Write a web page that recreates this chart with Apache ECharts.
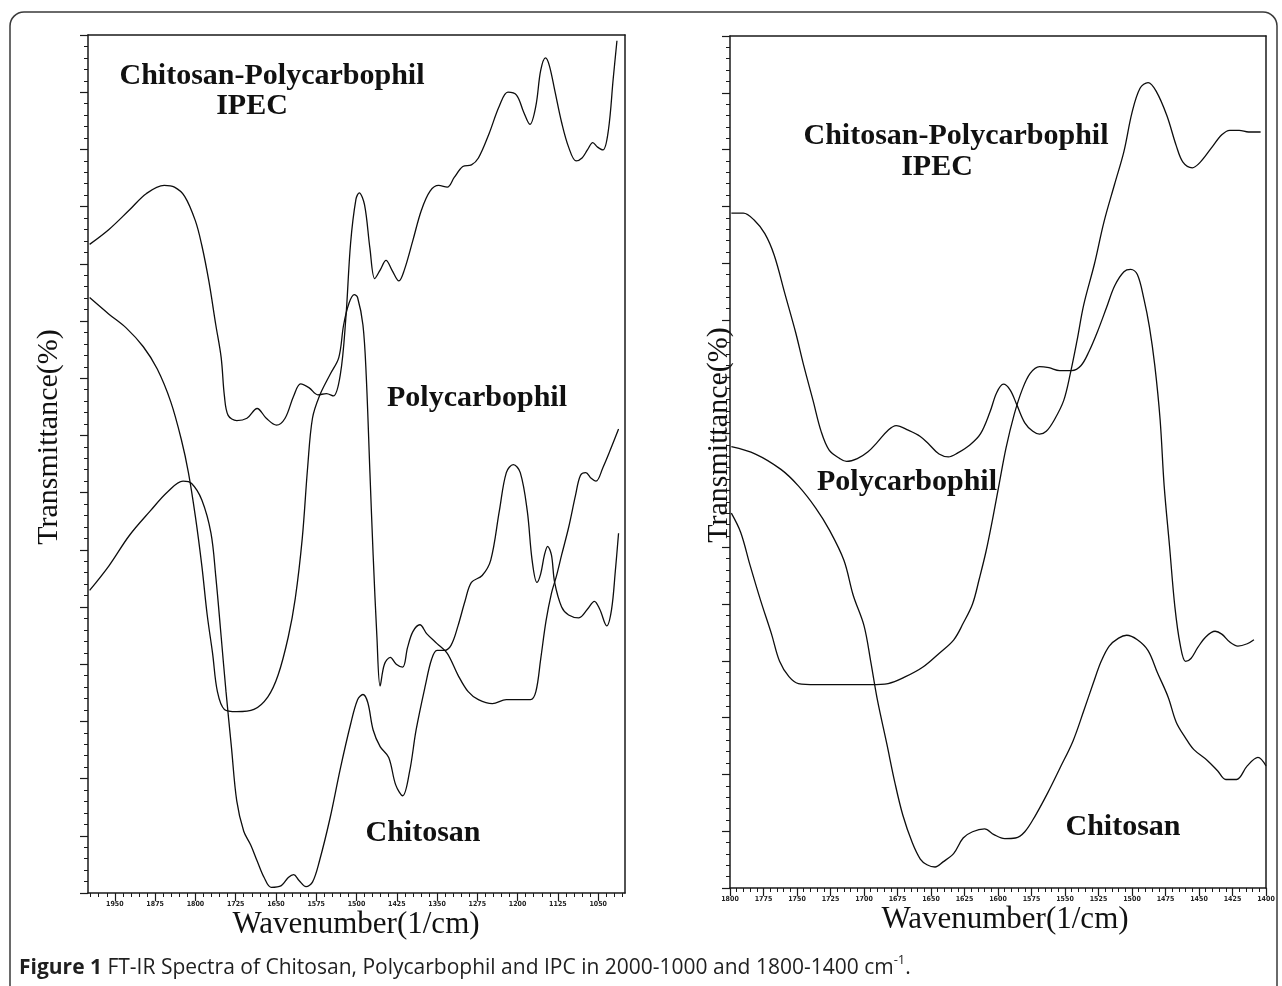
<!DOCTYPE html>
<html><head><meta charset="utf-8">
<script src="https://cdn.jsdelivr.net/npm/echarts@6/dist/echarts.min.js"></script>
<style>html,body{margin:0;padding:0;background:#fff}#c{width:1282px;height:986px}</style>
</head><body><div id="c"></div>
<script>
// ---- Left panel (2000-1000 cm-1): [wavenumber, transmittance (arb.)]
const leftIPEC = [[1997,113.4],[1961,116.0],[1923,119.4],[1891,122.3],[1858,123.7],[1839,123.4],[1820,121.8],[1800,117.5],[1788,113.2],[1775,107.0],[1762,99.3],[1752,93.6],[1746,86.9],[1739,83.5],[1723,82.6],[1704,83.0],[1685,84.7],[1668,83.0],[1649,81.8],[1633,83.0],[1617,86.9],[1604,89.0],[1588,88.3],[1572,87.1],[1556,87.3],[1543,86.9],[1530,90.7],[1520,100.3],[1511,113.6],[1501,121.3],[1495,122.4],[1485,120.3],[1475,112.7],[1466,107.4],[1456,108.9],[1445,110.6],[1434,108.9],[1421,107.0],[1411,108.9],[1395,114.1],[1379,119.4],[1363,122.7],[1347,123.7],[1331,123.4],[1318,125.1],[1302,127.0],[1286,127.3],[1273,128.5],[1253,132.8],[1234,137.6],[1218,140.0],[1202,139.5],[1189,136.6],[1177,134.4],[1166,137.6],[1157,143.8],[1148,146.0],[1141,144.7],[1131,140.4],[1118,134.7],[1105,130.4],[1091,128.0],[1080,128.5],[1070,129.9],[1060,131.2],[1051,130.4],[1041,129.9],[1031,133.3],[1022,142.3],[1015,149.0]];
const leftPolycarbophil = [[1997,104.1],[1961,101.2],[1929,98.8],[1897,95.5],[1871,91.6],[1846,85.9],[1826,79.2],[1813,73.5],[1800,65.8],[1788,57.2],[1778,48.6],[1768,41.9],[1759,35.2],[1746,32.1],[1723,31.7],[1691,32.1],[1665,34.3],[1646,38.1],[1627,44.8],[1614,51.5],[1601,62.0],[1591,74.4],[1582,83.0],[1569,86.9],[1549,90.7],[1533,93.6],[1524,99.3],[1514,103.1],[1504,104.6],[1498,104.1],[1488,99.3],[1482,90.7],[1475,73.5],[1469,59.1],[1462,44.8],[1456,36.2],[1448,40.0],[1437,41.2],[1426,40.0],[1414,39.5],[1405,42.9],[1395,45.7],[1382,46.9],[1369,45.3],[1350,43.6],[1331,41.9],[1311,38.1],[1292,35.2],[1273,33.8],[1247,33.1],[1221,33.8],[1195,33.8],[1176,33.8],[1166,35.2],[1157,40.9],[1147,47.6],[1137,52.4],[1128,55.3],[1118,59.1],[1105,63.9],[1092,69.6],[1083,73.0],[1073,73.5],[1063,72.5],[1054,72.0],[1041,74.4],[1028,77.3],[1012,81.1]];
const leftChitosan = [[1997,52.9],[1961,57.2],[1923,62.5],[1884,66.8],[1852,70.1],[1823,72.0],[1807,71.6],[1788,68.7],[1771,62.9],[1762,55.3],[1752,44.8],[1743,35.2],[1733,25.6],[1723,16.1],[1710,10.8],[1697,8.4],[1685,5.6],[1672,2.7],[1659,1.0],[1640,1.3],[1627,2.7],[1617,3.2],[1607,2.2],[1594,1.1],[1582,1.9],[1569,5.6],[1549,13.2],[1530,21.8],[1511,29.5],[1498,33.8],[1488,34.7],[1479,33.3],[1469,28.5],[1456,25.6],[1440,23.7],[1427,18.9],[1414,17.0],[1401,21.3],[1389,28.5],[1372,36.2],[1360,40.9],[1350,42.4],[1337,42.4],[1324,43.3],[1311,46.7],[1298,51.0],[1286,54.3],[1266,55.5],[1250,58.2],[1234,66.8],[1221,73.5],[1208,74.9],[1195,73.5],[1182,66.8],[1173,58.2],[1164,54.3],[1157,55.8],[1150,59.1],[1144,60.6],[1137,59.1],[1131,54.3],[1118,50.0],[1105,48.6],[1086,48.1],[1070,49.6],[1057,51.0],[1047,49.6],[1034,46.7],[1025,49.6],[1018,56.3],[1012,62.9]];

// ---- Right panel (1800-1400 cm-1)
const rightIPEC = [[1799,118.8],[1790,118.8],[1782,117.6],[1774,115.2],[1767,111.4],[1759,104.6],[1751,97.8],[1745,92.0],[1738,85.8],[1732,80.4],[1726,77.1],[1718,75.6],[1713,75.1],[1705,75.6],[1697,76.8],[1690,78.5],[1682,80.6],[1676,81.4],[1667,80.6],[1658,79.5],[1651,78.0],[1644,76.4],[1637,75.9],[1630,76.6],[1621,78.0],[1613,80.0],[1606,83.8],[1601,87.2],[1596,88.7],[1591,87.7],[1586,85.1],[1580,81.9],[1574,80.4],[1569,79.9],[1564,80.4],[1558,82.4],[1551,85.8],[1546,90.6],[1541,96.4],[1536,102.7],[1528,109.9],[1521,117.2],[1513,123.9],[1506,129.7],[1500,136.5],[1494,140.8],[1488,141.8],[1482,140.3],[1474,136.0],[1467,130.7],[1462,127.8],[1455,126.8],[1449,127.8],[1441,130.2],[1433,132.6],[1427,133.4],[1420,133.4],[1413,133.1],[1404,133.1]];
const rightPolycarbophil = [[1799,66.0],[1792,62.6],[1785,56.8],[1777,50.5],[1769,44.7],[1763,39.9],[1756,37.2],[1749,36.0],[1736,35.8],[1723,35.8],[1710,35.8],[1695,35.8],[1682,36.0],[1669,37.2],[1656,38.9],[1644,41.3],[1633,43.7],[1626,46.6],[1619,50.0],[1614,54.4],[1609,59.2],[1604,65.0],[1599,71.3],[1594,77.5],[1588,83.3],[1582,87.7],[1576,90.6],[1569,91.8],[1562,91.6],[1554,91.1],[1545,91.1],[1538,92.0],[1532,94.5],[1526,97.8],[1519,102.2],[1513,106.0],[1506,108.5],[1501,108.9],[1496,108.0],[1491,103.6],[1487,98.8],[1483,92.0],[1479,82.4],[1476,70.8],[1472,60.2],[1468,49.5],[1464,42.8],[1460,39.9],[1456,40.4],[1451,42.3],[1445,44.2],[1438,45.2],[1433,44.7],[1427,43.3],[1421,42.6],[1414,43.0],[1409,43.7]];
const rightChitosan = [[1799,77.7],[1781,76.4],[1762,73.7],[1749,70.8],[1736,66.9],[1726,63.1],[1715,57.7],[1708,51.5],[1700,46.2],[1695,39.9],[1690,33.1],[1683,25.4],[1677,18.6],[1671,12.8],[1664,8.0],[1658,5.1],[1653,4.1],[1647,3.7],[1641,4.6],[1633,6.1],[1626,8.8],[1619,9.9],[1610,10.4],[1603,9.4],[1595,8.7],[1587,8.8],[1580,9.9],[1572,12.8],[1563,16.7],[1554,21.0],[1544,25.9],[1536,31.2],[1529,36.0],[1523,39.9],[1517,42.6],[1510,44.0],[1504,44.5],[1496,43.7],[1488,41.8],[1481,37.9],[1473,33.6],[1467,29.2],[1460,26.4],[1454,24.4],[1444,22.5],[1436,20.6],[1430,19.1],[1422,19.1],[1414,21.5],[1406,23.0],[1400,21.5]];

// ---- Tick labels
const leftMajorTicks = [1950,1875,1800,1725,1650,1575,1500,1425,1350,1275,1200,1125,1050];
const leftMinorTicks = [];
for (let t = 1005; t <= 1995; t += 15) leftMinorTicks.push(t);

const axisColor = '#1a1a1a';
const lineAxis = {show:true, onZero:false, lineStyle:{color:axisColor, width:1.5}};
const tickLabel = {fontSize:7, fontWeight:'bold', fontFamily:'DejaVu Sans Condensed', color:'#222', margin:8,
  formatter: function (v) { return String(v); }};
const serifBold = 'bold 30px "Liberation Serif", "Times New Roman", serif';
const serifReg = '31px "Liberation Serif", "Times New Roman", serif';

function borderAxis(grid, pos, min, max, inv) {
  return {gridIndex:grid, type:'value', position:pos, min:min, max:max, inverse:inv,
    axisLine:lineAxis, axisTick:{show:false}, axisLabel:{show:false}, splitLine:{show:false}};
}
function yTicks(grid) {
  return {gridIndex:grid, type:'value', position:'left', min:0, max:150, interval:10,
    axisLine:lineAxis, axisTick:{show:true, length:8, lineStyle:{color:axisColor, width:1.2}},
    minorTick:{show:true, splitNumber:5, length:4, lineStyle:{color:axisColor, width:1}},
    axisLabel:{show:false}, splitLine:{show:false}, minorSplitLine:{show:false}};
}
function lineSeries(data, xi, yi) {
  return {type:'line', xAxisIndex:xi, yAxisIndex:yi, data:data, showSymbol:false, smooth:0.35,
    lineStyle:{color:'#0d0d0d', width:1.3}, silent:true, z:3};
}
function label(text, x, y, font) {
  return {type:'text', x:x, y:y, silent:true,
    style:{text:text, font:font, fill:'#111', textAlign:'center', textVerticalAlign:'middle'}};
}

const chart = echarts.init(document.getElementById('c'), null, {renderer:'canvas'});
chart.setOption({
  animation:false,
  backgroundColor:'#ffffff',
  grid:[
    {left:88, top:35, width:537, height:858, outerBoundsMode:'none', containLabel:false},
    {left:730, top:36, width:536, height:852, outerBoundsMode:'none', containLabel:false}
  ],
  xAxis:[
    {gridIndex:0, type:'value', position:'bottom', min:1000, max:2000, inverse:true,
      axisLine:lineAxis,
      axisTick:{show:true, length:8, customValues:leftMajorTicks, lineStyle:{color:axisColor, width:1.2}},
      axisLabel:Object.assign({show:true, customValues:leftMajorTicks}, tickLabel),
      splitLine:{show:false}},
    {gridIndex:0, type:'value', position:'bottom', min:1000, max:2000, inverse:true,
      axisLine:{show:false},
      axisTick:{show:true, length:4, customValues:leftMinorTicks, lineStyle:{color:axisColor, width:1}},
      axisLabel:{show:false}, splitLine:{show:false}},
    borderAxis(0, 'top', 1000, 2000, true),
    {gridIndex:1, type:'value', position:'bottom', min:1400, max:1800, interval:25, inverse:true,
      axisLine:lineAxis,
      axisTick:{show:true, length:8, lineStyle:{color:axisColor, width:1.2}},
      minorTick:{show:true, splitNumber:5, length:4, lineStyle:{color:axisColor, width:1}},
      axisLabel:Object.assign({show:true, showMinLabel:true, showMaxLabel:true, hideOverlap:false}, tickLabel),
      splitLine:{show:false}, minorSplitLine:{show:false}},
    borderAxis(1, 'top', 1400, 1800, true)
  ],
  yAxis:[
    yTicks(0),
    borderAxis(0, 'right', 0, 150, false),
    yTicks(1),
    borderAxis(1, 'right', 0, 150, false)
  ],
  series:[
    lineSeries(leftIPEC, 0, 0),
    lineSeries(leftPolycarbophil, 0, 0),
    lineSeries(leftChitosan, 0, 0),
    lineSeries(rightIPEC, 3, 2),
    lineSeries(rightPolycarbophil, 3, 2),
    lineSeries(rightChitosan, 3, 2)
  ],
  graphic:[
    {type:'rect', silent:true, shape:{x:10, y:12, width:1267, height:990, r:14},
      style:{fill:'none', stroke:'#3a3a3a', lineWidth:1.5}},
    label('Chitosan-Polycarbophil', 272, 76, serifBold),
    label('IPEC', 252, 106, serifBold),
    label('Polycarbophil', 477, 398, serifBold),
    label('Chitosan', 423, 833, serifBold),
    label('Chitosan-Polycarbophil', 956, 136, serifBold),
    label('IPEC', 937, 167, serifBold),
    label('Polycarbophil', 907, 482, serifBold),
    label('Chitosan', 1123, 827, serifBold),
    label('Wavenumber(1/cm)', 356, 925, serifReg),
    label('Wavenumber(1/cm)', 1005, 920, serifReg),
    Object.assign(label('Transmittance(%)', 49, 437, '30px "Liberation Serif", "Times New Roman", serif'), {rotation:Math.PI/2}),
    Object.assign(label('Transmittance(%)', 719, 435, '30px "Liberation Serif", "Times New Roman", serif'), {rotation:Math.PI/2}),
    {type:'text', x:19, y:968, silent:true,
      style:{text:'{b|Figure 1} FT-IR Spectra of Chitosan, Polycarbophil and IPC in 2000-1000 and 1800-1400 cm{s|-1}.',
        font:'21px "Open Sans", sans-serif', fill:'#1f1f1f', textAlign:'left', textVerticalAlign:'middle',
        lineHeight:28,
        rich:{
          b:{fontWeight:'bold', fontSize:21, fontFamily:'"Open Sans", sans-serif', lineHeight:28},
          s:{fontSize:13, fontFamily:'"Open Sans", sans-serif', lineHeight:16, verticalAlign:'top'}
        }}}
  ]
});
</script>
</body></html>
